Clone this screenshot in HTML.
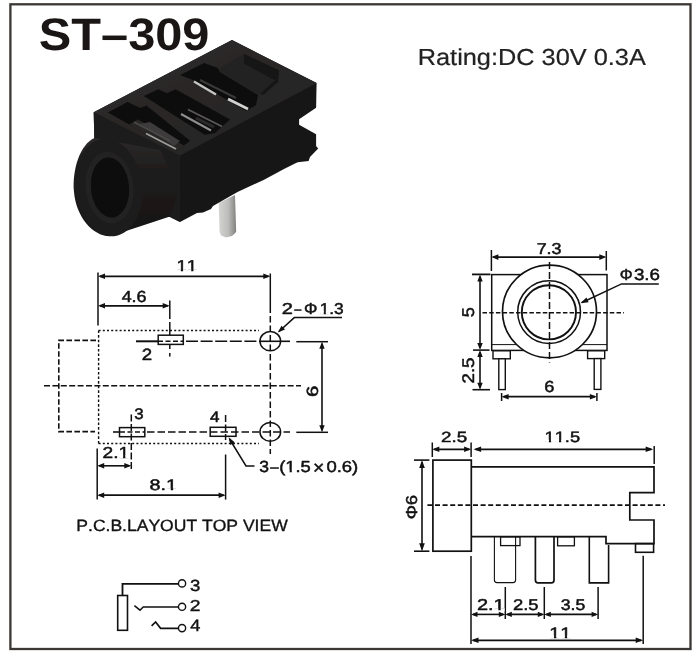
<!DOCTYPE html>
<html><head><meta charset="utf-8"><title>ST-309</title>
<style>
html,body{margin:0;padding:0;background:#fff;}
body{width:700px;height:660px;overflow:hidden;font-family:"Liberation Sans",sans-serif;}
svg{display:block;font-family:"Liberation Sans",sans-serif;will-change:transform;transform:translateZ(0);}
svg text{text-rendering:geometricPrecision;font-kerning:none;}
</style></head><body>
<svg width="700" height="660" viewBox="0 0 700 660">
<rect width="700" height="660" fill="#fff"/>
<rect x="10.4" y="4.3" width="680.1" height="644.7" fill="none" stroke="#3b3735" stroke-width="2.3"/>
<g transform="translate(38.80,50.39) scale(1.0706,1)"><text font-size="45.53" font-weight="bold" fill="#1a1615">ST&#8211;309</text></g>
<g transform="translate(417.72,65.28) scale(1.0962,1)"><text font-size="23.12" font-weight="normal" fill="#222" stroke="#222" stroke-width="0.2" stroke-linejoin="round">Rating:DC 30V 0.3A</text></g>
<defs>
<linearGradient id="gTop" x1="0" y1="0" x2="1" y2="1"><stop offset="0" stop-color="#2e2c2c"/><stop offset="1" stop-color="#242222"/></linearGradient>
<linearGradient id="gPin" x1="0" y1="0" x2="1" y2="0"><stop offset="0" stop-color="#d4d4d2"/><stop offset="0.55" stop-color="#bcbcba"/><stop offset="1" stop-color="#80807e"/></linearGradient>
<radialGradient id="gHole" cx="0.45" cy="0.5" r="0.6"><stop offset="0" stop-color="#070606"/><stop offset="1" stop-color="#121010"/></radialGradient>
<linearGradient id="gBar" x1="0" y1="0" x2="0" y2="1"><stop offset="0" stop-color="#2c2a2a"/><stop offset="0.35" stop-color="#1e1c1c"/><stop offset="1" stop-color="#171515"/></linearGradient>
<filter id="soft" x="-5%" y="-5%" width="110%" height="110%"><feGaussianBlur stdDeviation="0.7"/></filter>
</defs>
<g id="photo" filter="url(#soft)">
<!-- pin -->
<polygon points="218.7,203 235,195 236.2,232 232,236 226,237.5 221,235.5 219.6,232" fill="url(#gPin)"/>
<!-- body silhouette / right face -->
<polygon points="93.7,112.3 232,40 316.6,83 316.1,107.7 299.1,119.3 299.1,124.8 316.1,134.3 316.1,146 318.2,148.6 310,157 308.6,161 297.7,162.3 295,163.6 284,169 263.6,180 237.5,192 213,206 211,209 203,212.5 197,213 180,222 170,217 120,200 94.6,150" fill="#191717"/>
<!-- front face -->
<polygon points="93.7,112.3 180,155.5 180,222 170,217 120,200 94.6,150" fill="#1e1c1c"/>
<!-- top surface -->
<polygon points="93.7,112.3 232,40 316.6,83 180,155.5" fill="url(#gTop)"/>
<!-- opening 1 -->
<polygon points="107.9,112.4 127.6,102.1 140.4,108.1 146.4,105.6 190.1,140.7 176.4,151 146.4,134.7 129.3,124.4" fill="#0e0d0d"/>
<polygon points="129.3,124.4 138,119.5 184,145.5 176.4,151 146.4,134.7" fill="#2a2828"/>
<polygon points="140,124 150,122 180,141 174,146" fill="#3c3a3a"/>
<line x1="146" y1="133.5" x2="176" y2="149" stroke="#9c9c9a" stroke-width="1.8"/>
<line x1="134" y1="122" x2="170" y2="141" stroke="#4a4848" stroke-width="1.6"/>
<!-- opening 2 -->
<polygon points="143.9,96.1 158.4,89.3 167,93.2 175.6,89.3 230,119.5 215,133 204.7,134.7" fill="#0e0d0d"/>
<line x1="181" y1="114" x2="211" y2="130.5" stroke="#8e8e8c" stroke-width="2"/>
<line x1="188" y1="109.5" x2="222" y2="126.5" stroke="#5c5a5a" stroke-width="1.8"/>
<line x1="196" y1="118" x2="214" y2="127" stroke="#2c2a2a" stroke-width="3"/>
<!-- opening 3 -->
<polygon points="180,75 204,63 218,68 220,72 258,95 256,105 246,111 193,80" fill="#0e0d0d"/>
<polygon points="220,68 244,54 278,70 277,81 262,94 258,95 220,72" fill="#232121"/>
<polygon points="276,69 279,70.5 278,82 263,95 260,94 275.5,80" fill="#151313"/>
<polygon points="244,54 278,70 277,81 270,77.5 244,63.5" fill="#161414"/>
<line x1="194" y1="81.5" x2="216" y2="94.5" stroke="#c6c6c4" stroke-width="2.2"/>
<line x1="228" y1="99" x2="248" y2="109" stroke="#d2d2d0" stroke-width="2.8"/>
<line x1="200" y1="80" x2="236" y2="98" stroke="#3a3838" stroke-width="2"/>
<!-- barrel -->
<path d="M94.6,138 C80,144 72,170 74,192 C76,216 92,236 110,236.3 L170,216.5 L180,190 L160,150 Z" fill="url(#gBar)"/>
<ellipse cx="108.5" cy="187.5" rx="33.5" ry="49" transform="rotate(-7 108.5 187.5)" fill="#1e1c1c"/>
<ellipse cx="109.5" cy="187.5" rx="24" ry="36" transform="rotate(-6 109.5 187.5)" fill="#232121"/>
<ellipse cx="110" cy="187.5" rx="19" ry="30" transform="rotate(-5 110 187.5)" fill="#0b0a0a"/>
</g>

<line x1="98" y1="272.5" x2="98" y2="325.5" stroke="#111" stroke-width="1.5" stroke-linecap="butt"/>
<line x1="270.3" y1="273.5" x2="270.3" y2="313" stroke="#111" stroke-width="1.5" stroke-linecap="butt"/>
<line x1="270.3" y1="316" x2="270.3" y2="454" stroke="#111" stroke-width="1.5" stroke-dasharray="6.5 3" stroke-linecap="butt"/>
<line x1="100" y1="276.3" x2="268.3" y2="276.3" stroke="#111" stroke-width="1.7" stroke-linecap="butt"/>
<polygon points="98.00,276.30 105.00,273.50 105.00,279.10" fill="#111"/>
<polygon points="270.30,276.30 263.30,279.10 263.30,273.50" fill="#111"/>
<g transform="translate(176.46,271.45) scale(1.1868,1)"><text font-size="15.70" font-weight="normal" fill="#111" stroke="#111" stroke-width="0.5" stroke-linejoin="round">11</text><rect x="0.55" y="-2.22" width="3.15" height="3.17" fill="#fff"/><rect x="5.58" y="-2.22" width="3.03" height="3.17" fill="#fff"/><rect x="9.28" y="-2.22" width="3.15" height="3.17" fill="#fff"/><rect x="14.31" y="-2.22" width="3.03" height="3.17" fill="#fff"/></g>
<line x1="100" y1="305.8" x2="167.7" y2="305.8" stroke="#111" stroke-width="1.7" stroke-linecap="butt"/>
<polygon points="98.00,305.80 105.00,303.00 105.00,308.60" fill="#111"/>
<polygon points="169.70,305.80 162.70,308.60 162.70,303.00" fill="#111"/>
<g transform="translate(121.64,301.79) scale(1.1222,1)"><text font-size="15.96" font-weight="normal" fill="#111" stroke="#111" stroke-width="0.5" stroke-linejoin="round">4.6</text></g>
<line x1="169.8" y1="300.5" x2="169.8" y2="319" stroke="#111" stroke-width="1.5" stroke-linecap="butt"/>
<line x1="169.8" y1="322" x2="169.8" y2="335" stroke="#111" stroke-width="1.5" stroke-linecap="butt"/>
<line x1="169.8" y1="344.5" x2="169.8" y2="349" stroke="#111" stroke-width="1.5" stroke-linecap="butt"/>
<line x1="169.8" y1="353" x2="169.8" y2="356.5" stroke="#111" stroke-width="1.5" stroke-linecap="butt"/>
<line x1="98.6" y1="330.5" x2="259" y2="330.5" stroke="#111" stroke-width="1.4" stroke-dasharray="2 2.2" stroke-linecap="butt"/>
<line x1="98.6" y1="330.5" x2="98.6" y2="444" stroke="#111" stroke-width="1.4" stroke-dasharray="2.6 2" stroke-linecap="butt"/>
<line x1="98.6" y1="443.5" x2="259" y2="443.5" stroke="#111" stroke-width="1.4" stroke-dasharray="2 2.2" stroke-linecap="butt"/>
<polyline points="96,340.4 58.8,340.4 58.8,431.6 95,431.6" fill="none" stroke="#111" stroke-width="1.6" stroke-dasharray="5.6 2.4"/>
<line x1="44" y1="385.7" x2="301" y2="385.7" stroke="#111" stroke-width="1.6" stroke-dasharray="6 2.4" stroke-linecap="butt"/>
<line x1="136" y1="341.3" x2="158" y2="341.3" stroke="#111" stroke-width="2.0" stroke-linecap="butt"/>
<line x1="158" y1="341.3" x2="183" y2="341.3" stroke="#111" stroke-width="1.6" stroke-dasharray="5 2.5" stroke-linecap="butt"/>
<line x1="186" y1="341.3" x2="259" y2="341.3" stroke="#111" stroke-width="1.6" stroke-dasharray="12 2.6" stroke-linecap="butt"/>
<line x1="259" y1="341.3" x2="290" y2="341.3" stroke="#111" stroke-width="1.6" stroke-linecap="butt"/>
<line x1="296.3" y1="341.7" x2="328" y2="341.7" stroke="#111" stroke-width="1.5" stroke-linecap="butt"/>
<line x1="113" y1="432" x2="120" y2="432" stroke="#111" stroke-width="1.6" stroke-linecap="butt"/>
<line x1="120" y1="432" x2="145" y2="432" stroke="#111" stroke-width="1.6" stroke-dasharray="5 2.5" stroke-linecap="butt"/>
<line x1="147" y1="432" x2="290" y2="432" stroke="#111" stroke-width="1.6" stroke-dasharray="7.5 3" stroke-linecap="butt"/>
<line x1="296.3" y1="432.3" x2="328" y2="432.3" stroke="#111" stroke-width="1.5" stroke-linecap="butt"/>
<rect x="158.2" y="335.2" width="25.100000000000023" height="9.199999999999989" fill="none" stroke="#111" stroke-width="1.5" rx="0"/>
<rect x="119.5" y="427.6" width="25.30000000000001" height="9.099999999999966" fill="none" stroke="#111" stroke-width="1.5" rx="0"/>
<rect x="210.2" y="427.3" width="25.80000000000001" height="9.0" fill="none" stroke="#111" stroke-width="1.5" rx="0"/>
<line x1="131.3" y1="414.5" x2="131.3" y2="470" stroke="#111" stroke-width="1.5" stroke-dasharray="7 2.5" stroke-linecap="butt"/>
<line x1="225.6" y1="415" x2="225.6" y2="440" stroke="#111" stroke-width="1.5" stroke-dasharray="7 2.5" stroke-linecap="butt"/>
<line x1="225.6" y1="454.5" x2="225.6" y2="499.6" stroke="#111" stroke-width="1.5" stroke-linecap="butt"/>
<ellipse cx="270.3" cy="341.2" rx="10.3" ry="9.6" fill="none" stroke="#111" stroke-width="1.5"/>
<ellipse cx="270.3" cy="431.9" rx="10.3" ry="9.4" fill="none" stroke="#111" stroke-width="1.5"/>
<g transform="translate(141.81,360.05) scale(1.1428,1)"><text font-size="16.33" font-weight="normal" fill="#111" stroke="#111" stroke-width="0.5" stroke-linejoin="round">2</text></g>
<g transform="translate(134.31,418.50) scale(1.1062,1)"><text font-size="15.25" font-weight="normal" fill="#111" stroke="#111" stroke-width="0.5" stroke-linejoin="round">3</text></g>
<g transform="translate(210.06,422.05) scale(1.1183,1)"><text font-size="15.26" font-weight="normal" fill="#111" stroke="#111" stroke-width="0.5" stroke-linejoin="round">4</text></g>
<polyline points="279,331.5 294.3,317.6 342,317.6" fill="none" stroke="#111" stroke-width="1.5" stroke-linejoin="miter"/>
<polygon points="277.70,332.60 281.50,325.63 285.00,329.48" fill="#111"/>
<g transform="translate(281.85,313.95) scale(1.2565,1)"><text font-size="15.90" font-weight="normal" fill="#111" stroke="#111" stroke-width="0.5" stroke-linejoin="round">2</text></g>
<g transform="translate(294.55,313.90) scale(0.7881,1)"><text font-size="15.30" font-weight="normal" fill="#111" stroke="#111" stroke-width="0.5" stroke-linejoin="round">&#8211;</text></g>
<g transform="translate(303.99,313.86) scale(1.0575,1)"><text font-size="15.90" font-weight="normal" fill="#111" stroke="#111" stroke-width="0.5" stroke-linejoin="round">&#934;</text></g>
<g transform="translate(319.69,313.80) scale(1.1022,1)"><text font-size="15.68" font-weight="normal" fill="#111" stroke="#111" stroke-width="0.5" stroke-linejoin="round">1.3</text><rect x="0.54" y="-2.22" width="3.15" height="3.17" fill="#fff"/><rect x="5.58" y="-2.22" width="3.03" height="3.17" fill="#fff"/></g>
<line x1="322" y1="343.7" x2="322" y2="430.3" stroke="#111" stroke-width="1.6" stroke-linecap="butt"/>
<polygon points="322.00,341.70 324.70,348.70 319.30,348.70" fill="#111"/>
<polygon points="322.00,432.30 319.30,425.30 324.70,425.30" fill="#111"/>
<g transform="translate(318.09,396.98) rotate(-90) scale(1.2542,1)"><text font-size="16.24" font-weight="normal" fill="#111" stroke="#111" stroke-width="0.5" stroke-linejoin="round">6</text></g>
<polyline points="229.5,439 246,466 254.5,466" fill="none" stroke="#111" stroke-width="1.5" stroke-linejoin="miter"/>
<polygon points="228.60,437.30 234.71,442.36 230.27,445.06" fill="#111"/>
<g transform="translate(259.18,471.99) scale(1.0872,1)"><text font-size="16.10" font-weight="normal" fill="#111" stroke="#111" stroke-width="0.5" stroke-linejoin="round">3</text></g>
<g transform="translate(270.35,472.10) scale(0.9637,1)"><text font-size="15.50" font-weight="normal" fill="#111" stroke="#111" stroke-width="0.5" stroke-linejoin="round">&#8211;</text></g>
<g transform="translate(279.21,471.97) scale(1.1546,1)"><text font-size="15.89" font-weight="normal" fill="#111" stroke="#111" stroke-width="0.5" stroke-linejoin="round">(1.5</text><rect x="5.85" y="-2.24" width="3.18" height="3.19" fill="#fff"/><rect x="10.94" y="-2.24" width="3.06" height="3.19" fill="#fff"/></g>
<g transform="translate(312.90,474.14) scale(1.0247,1)"><text font-size="19.05" font-weight="normal" fill="#111" stroke="#111" stroke-width="0.5" stroke-linejoin="round">&#215;</text></g>
<g transform="translate(326.43,471.97) scale(1.1642,1)"><text font-size="15.89" font-weight="normal" fill="#111" stroke="#111" stroke-width="0.5" stroke-linejoin="round">0.6)</text></g>
<line x1="97.2" y1="448.5" x2="97.2" y2="499.6" stroke="#111" stroke-width="1.5" stroke-linecap="butt"/>
<line x1="99.2" y1="465.8" x2="129.3" y2="465.8" stroke="#111" stroke-width="1.6" stroke-linecap="butt"/>
<polygon points="97.20,465.80 104.20,463.10 104.20,468.50" fill="#111"/>
<polygon points="131.30,465.80 124.30,468.50 124.30,463.10" fill="#111"/>
<g transform="translate(102.59,457.65) scale(1.2038,1)"><text font-size="15.90" font-weight="normal" fill="#111" stroke="#111" stroke-width="0.5" stroke-linejoin="round">2.1</text><rect x="13.82" y="-2.24" width="3.19" height="3.19" fill="#fff"/><rect x="18.91" y="-2.24" width="3.06" height="3.19" fill="#fff"/></g>
<line x1="99.2" y1="495.2" x2="223.6" y2="495.2" stroke="#111" stroke-width="1.7" stroke-linecap="butt"/>
<polygon points="97.20,495.20 104.20,492.40 104.20,498.00" fill="#111"/>
<polygon points="225.60,495.20 218.60,498.00 218.60,492.40" fill="#111"/>
<g transform="translate(149.59,490.40) scale(1.2991,1)"><text font-size="15.25" font-weight="normal" fill="#111" stroke="#111" stroke-width="0.5" stroke-linejoin="round">8.1</text><rect x="13.23" y="-2.19" width="3.07" height="3.14" fill="#fff"/><rect x="18.15" y="-2.19" width="2.96" height="3.14" fill="#fff"/></g>
<g transform="translate(76.34,530.57) scale(1.0755,1)"><text font-size="16.31" font-weight="normal" fill="#111" stroke="#111" stroke-width="0.35" stroke-linejoin="round">P.C.B.LAYOUT TOP VIEW</text></g>
<rect x="117.7" y="595.5" width="9.799999999999997" height="34.799999999999955" fill="none" stroke="#111" stroke-width="1.6" rx="0"/>
<polyline points="122.5,595.4 122.5,583.9 178.4,583.9" fill="none" stroke="#111" stroke-width="1.8" stroke-linejoin="miter"/>
<polyline points="134.4,605.6 140,610.2 143.2,606.9 178.4,606.9" fill="none" stroke="#111" stroke-width="1.5" stroke-linejoin="miter"/>
<polyline points="151.6,625.8 155.6,622 160.6,628.3 178.4,628.3" fill="none" stroke="#111" stroke-width="1.7" stroke-linejoin="miter"/>
<circle cx="182.05" cy="583.4" r="3.6" fill="none" stroke="#111" stroke-width="1.4"/>
<circle cx="182.05" cy="606.8" r="3.6" fill="none" stroke="#111" stroke-width="1.4"/>
<circle cx="182.05" cy="628.1" r="3.6" fill="none" stroke="#111" stroke-width="1.4"/>
<g transform="translate(189.99,590.64) scale(1.1527,1)"><text font-size="16.10" font-weight="normal" fill="#111" stroke="#111" stroke-width="0.4" stroke-linejoin="round">3</text></g>
<g transform="translate(189.73,611.20) scale(1.2151,1)"><text font-size="15.90" font-weight="normal" fill="#111" stroke="#111" stroke-width="0.4" stroke-linejoin="round">2</text></g>
<g transform="translate(190.28,631.10) scale(1.1018,1)"><text font-size="16.57" font-weight="normal" fill="#111" stroke="#111" stroke-width="0.4" stroke-linejoin="round">4</text></g>
<line x1="491.4" y1="250" x2="491.4" y2="271" stroke="#111" stroke-width="1.5" stroke-linecap="butt"/>
<line x1="606.3" y1="251" x2="606.3" y2="270.5" stroke="#111" stroke-width="1.5" stroke-linecap="butt"/>
<line x1="493.4" y1="257.1" x2="604.3" y2="257.1" stroke="#111" stroke-width="1.7" stroke-linecap="butt"/>
<polygon points="491.40,257.10 498.40,254.30 498.40,259.90" fill="#111"/>
<polygon points="606.30,257.10 599.30,259.90 599.30,254.30" fill="#111"/>
<g transform="translate(536.63,254.30) scale(1.1326,1)"><text font-size="15.82" font-weight="normal" fill="#111" stroke="#111" stroke-width="0.5" stroke-linejoin="round">7.3</text></g>
<rect x="491.7" y="274.6" width="115.30000000000001" height="75.79999999999995" fill="#fff" stroke="#111" stroke-width="1.5" rx="0"/>
<line x1="491.7" y1="344.6" x2="607" y2="344.6" stroke="#111" stroke-width="1.0" stroke-linecap="butt"/>
<rect x="493" y="350.8" width="17.30000000000001" height="8.0" fill="#fff" stroke="#111" stroke-width="1.4" rx="0"/>
<rect x="498.8" y="358.8" width="6.5" height="30.80000000000001" fill="#fff" stroke="#111" stroke-width="1.4" rx="0"/>
<rect x="587.6" y="350.8" width="17.100000000000023" height="7.800000000000011" fill="#fff" stroke="#111" stroke-width="1.4" rx="0"/>
<rect x="594.2" y="358.6" width="6.699999999999932" height="30.799999999999955" fill="#fff" stroke="#111" stroke-width="1.4" rx="0"/>
<ellipse cx="549.5" cy="311.5" rx="47" ry="46.3" fill="#fff" stroke="#111" stroke-width="1.7"/>
<circle cx="549.1" cy="312.1" r="31.4" fill="none" stroke="#111" stroke-width="1.5"/>
<circle cx="548.9" cy="312.3" r="27.1" fill="none" stroke="#111" stroke-width="1.9"/>
<line x1="482.5" y1="312.7" x2="624" y2="312.7" stroke="#111" stroke-width="1.6" stroke-dasharray="4.5 2.2" stroke-linecap="butt"/>
<line x1="549.5" y1="262" x2="549.5" y2="362.5" stroke="#111" stroke-width="1.5" stroke-dasharray="7 3" stroke-linecap="butt"/>
<line x1="472" y1="274.4" x2="490.5" y2="274.4" stroke="#111" stroke-width="1.8" stroke-linecap="butt"/>
<line x1="473" y1="350.1" x2="489.5" y2="350.1" stroke="#111" stroke-width="1.6" stroke-linecap="butt"/>
<line x1="480" y1="276.4" x2="480" y2="348.1" stroke="#111" stroke-width="1.6" stroke-linecap="butt"/>
<polygon points="480.00,274.40 482.70,281.40 477.30,281.40" fill="#111"/>
<polygon points="480.00,350.10 477.30,343.10 482.70,343.10" fill="#111"/>
<g transform="translate(473.68,317.28) rotate(-90) scale(1.0636,1)"><text font-size="17.05" font-weight="normal" fill="#111" stroke="#111" stroke-width="0.5" stroke-linejoin="round">5</text></g>
<line x1="472.5" y1="389.7" x2="490" y2="389.7" stroke="#111" stroke-width="1.6" stroke-linecap="butt"/>
<line x1="480" y1="352.1" x2="480" y2="387.7" stroke="#111" stroke-width="1.6" stroke-linecap="butt"/>
<polygon points="480.00,350.10 482.70,357.10 477.30,357.10" fill="#111"/>
<polygon points="480.00,389.70 477.30,382.70 482.70,382.70" fill="#111"/>
<g transform="translate(473.69,383.49) rotate(-90) scale(1.1140,1)"><text font-size="16.81" font-weight="normal" fill="#111" stroke="#111" stroke-width="0.5" stroke-linejoin="round">2.5</text></g>
<line x1="501.6" y1="393" x2="501.6" y2="401" stroke="#111" stroke-width="1.5" stroke-linecap="butt"/>
<line x1="596.9" y1="393" x2="596.9" y2="401" stroke="#111" stroke-width="1.5" stroke-linecap="butt"/>
<line x1="503.6" y1="396.7" x2="594.9" y2="396.7" stroke="#111" stroke-width="1.7" stroke-linecap="butt"/>
<polygon points="501.60,396.70 508.60,393.90 508.60,399.50" fill="#111"/>
<polygon points="596.90,396.70 589.90,399.50 589.90,393.90" fill="#111"/>
<g transform="translate(544.13,392.19) scale(1.1406,1)"><text font-size="15.96" font-weight="normal" fill="#111" stroke="#111" stroke-width="0.5" stroke-linejoin="round">6</text></g>
<polyline points="582,302.5 621.5,283.9 658.8,283.9" fill="none" stroke="#111" stroke-width="1.5" stroke-linejoin="miter"/>
<polygon points="580.30,303.30 586.45,297.56 588.65,302.27" fill="#111"/>
<g transform="translate(619.63,279.57) scale(1.0207,1)"><text font-size="15.75" font-weight="normal" fill="#111" stroke="#111" stroke-width="0.5" stroke-linejoin="round">&#934;</text></g>
<g transform="translate(633.94,279.69) scale(1.1632,1)"><text font-size="16.10" font-weight="normal" fill="#111" stroke="#111" stroke-width="0.5" stroke-linejoin="round">3.6</text></g>
<rect x="432.9" y="460.1" width="38.400000000000034" height="91.10000000000002" fill="#fff" stroke="#111" stroke-width="1.7" rx="0"/>
<polyline points="471.3,466.9 654,466.9 654,492.6 629.8,492.6 629.8,520 654,520 654,543.6 606,543.6 606,536.6 471.3,536.6" fill="none" stroke="#111" stroke-width="1.7" stroke-linejoin="miter"/>
<rect x="635.5" y="543.6" width="18.100000000000023" height="8.699999999999932" fill="none" stroke="#111" stroke-width="1.6" rx="0"/>
<path d="M494.4,536.8 V580 Q494.4,582.6 497,582.6 H513 Q515.6,582.6 515.6,580 V536.8" fill="none" stroke="#111" stroke-width="1.1"/>
<rect x="500.6" y="536.8" width="19.399999999999977" height="8.800000000000068" fill="none" stroke="#111" stroke-width="1.3" rx="0"/>
<path d="M535.4,536.8 V580 Q535.4,582.9 538,582.9 H551.4 Q554,582.9 554,580 V536.8" fill="none" stroke="#111" stroke-width="1.7"/>
<rect x="557.6" y="536.8" width="16.799999999999955" height="9.0" fill="none" stroke="#111" stroke-width="1.3" rx="0"/>
<polyline points="589.3,536.8 589.3,582.9 608.6,582.9 608.6,545" fill="none" stroke="#111" stroke-width="1.6" stroke-linejoin="miter"/>
<line x1="427.4" y1="505.1" x2="665" y2="505.1" stroke="#111" stroke-width="1.6" stroke-dasharray="5 2.6" stroke-linecap="butt"/>
<line x1="432.3" y1="442.5" x2="432.3" y2="457" stroke="#111" stroke-width="1.5" stroke-linecap="butt"/>
<line x1="471.1" y1="442.5" x2="471.1" y2="457" stroke="#111" stroke-width="1.5" stroke-linecap="butt"/>
<line x1="654.2" y1="446" x2="654.2" y2="464" stroke="#111" stroke-width="1.5" stroke-linecap="butt"/>
<line x1="434.3" y1="449.3" x2="469.1" y2="449.3" stroke="#111" stroke-width="1.7" stroke-linecap="butt"/>
<polygon points="432.30,449.30 439.30,446.50 439.30,452.10" fill="#111"/>
<polygon points="471.10,449.30 464.10,452.10 464.10,446.50" fill="#111"/>
<line x1="475.6" y1="449.3" x2="651.2" y2="449.3" stroke="#111" stroke-width="1.7" stroke-linecap="butt"/>
<polygon points="473.60,449.30 481.10,446.50 481.10,452.10" fill="#111"/>
<polygon points="653.20,449.30 645.70,452.10 645.70,446.50" fill="#111"/>
<g transform="translate(441.00,441.91) scale(1.2677,1)"><text font-size="14.83" font-weight="normal" fill="#111" stroke="#111" stroke-width="0.5" stroke-linejoin="round">2.5</text></g>
<g transform="translate(544.60,441.90) scale(1.2092,1)"><text font-size="15.05" font-weight="normal" fill="#111" stroke="#111" stroke-width="0.5" stroke-linejoin="round">11.5</text><rect x="0.50" y="-2.17" width="3.04" height="3.12" fill="#fff"/><rect x="5.36" y="-2.17" width="2.92" height="3.12" fill="#fff"/><rect x="8.87" y="-2.17" width="3.04" height="3.12" fill="#fff"/><rect x="13.73" y="-2.17" width="2.92" height="3.12" fill="#fff"/></g>
<line x1="414" y1="460.1" x2="429.4" y2="460.1" stroke="#111" stroke-width="1.6" stroke-linecap="butt"/>
<line x1="414" y1="551.2" x2="429.4" y2="551.2" stroke="#111" stroke-width="1.6" stroke-linecap="butt"/>
<line x1="422" y1="462.1" x2="422" y2="549.2" stroke="#111" stroke-width="1.6" stroke-linecap="butt"/>
<polygon points="422.00,460.10 424.80,468.10 419.20,468.10" fill="#111"/>
<polygon points="422.00,551.20 419.20,543.20 424.80,543.20" fill="#111"/>
<g transform="translate(416.60,519.37) rotate(-90) scale(1.1302,1)"><text font-size="15.82" font-weight="normal" fill="#111" stroke="#111" stroke-width="0.5" stroke-linejoin="round">&#934;6</text></g>
<line x1="471" y1="556" x2="471" y2="644" stroke="#111" stroke-width="1.5" stroke-linecap="butt"/>
<line x1="505.3" y1="587" x2="505.3" y2="619" stroke="#111" stroke-width="1.5" stroke-linecap="butt"/>
<line x1="544.3" y1="587" x2="544.3" y2="619" stroke="#111" stroke-width="1.5" stroke-linecap="butt"/>
<line x1="598.1" y1="587" x2="598.1" y2="619" stroke="#111" stroke-width="1.5" stroke-linecap="butt"/>
<line x1="643.2" y1="555.7" x2="643.2" y2="644" stroke="#111" stroke-width="1.5" stroke-linecap="butt"/>
<line x1="473" y1="614.4" x2="503.3" y2="614.4" stroke="#111" stroke-width="1.6" stroke-linecap="butt"/>
<polygon points="471.00,614.40 477.50,611.80 477.50,617.00" fill="#111"/>
<polygon points="505.30,614.40 498.80,617.00 498.80,611.80" fill="#111"/>
<line x1="507.3" y1="614.4" x2="542.3" y2="614.4" stroke="#111" stroke-width="1.6" stroke-linecap="butt"/>
<polygon points="505.30,614.40 511.80,611.80 511.80,617.00" fill="#111"/>
<polygon points="544.30,614.40 537.80,617.00 537.80,611.80" fill="#111"/>
<line x1="546.3" y1="614.4" x2="596.1" y2="614.4" stroke="#111" stroke-width="1.6" stroke-linecap="butt"/>
<polygon points="544.30,614.40 550.80,611.80 550.80,617.00" fill="#111"/>
<polygon points="598.10,614.40 591.60,617.00 591.60,611.80" fill="#111"/>
<g transform="translate(476.95,610.45) scale(1.2656,1)"><text font-size="15.75" font-weight="normal" fill="#111" stroke="#111" stroke-width="0.5" stroke-linejoin="round">2.1</text><rect x="13.69" y="-2.23" width="3.16" height="3.18" fill="#fff"/><rect x="18.74" y="-2.23" width="3.04" height="3.18" fill="#fff"/></g>
<g transform="translate(512.92,610.30) scale(1.1853,1)"><text font-size="15.54" font-weight="normal" fill="#111" stroke="#111" stroke-width="0.5" stroke-linejoin="round">2.5</text></g>
<g transform="translate(560.68,610.30) scale(1.1349,1)"><text font-size="15.54" font-weight="normal" fill="#111" stroke="#111" stroke-width="0.5" stroke-linejoin="round">3.5</text></g>
<line x1="473" y1="640.3" x2="641.2" y2="640.3" stroke="#111" stroke-width="1.7" stroke-linecap="butt"/>
<polygon points="471.00,640.30 478.50,637.50 478.50,643.10" fill="#111"/>
<polygon points="643.20,640.30 635.70,643.10 635.70,637.50" fill="#111"/>
<g transform="translate(549.37,637.65) scale(1.2904,1)"><text font-size="15.12" font-weight="normal" fill="#111" stroke="#111" stroke-width="0.5" stroke-linejoin="round">11</text><rect x="0.50" y="-2.18" width="3.05" height="3.13" fill="#fff"/><rect x="5.39" y="-2.18" width="2.93" height="3.13" fill="#fff"/><rect x="8.91" y="-2.18" width="3.05" height="3.13" fill="#fff"/><rect x="13.79" y="-2.18" width="2.93" height="3.13" fill="#fff"/></g>
</svg>
</body></html>
